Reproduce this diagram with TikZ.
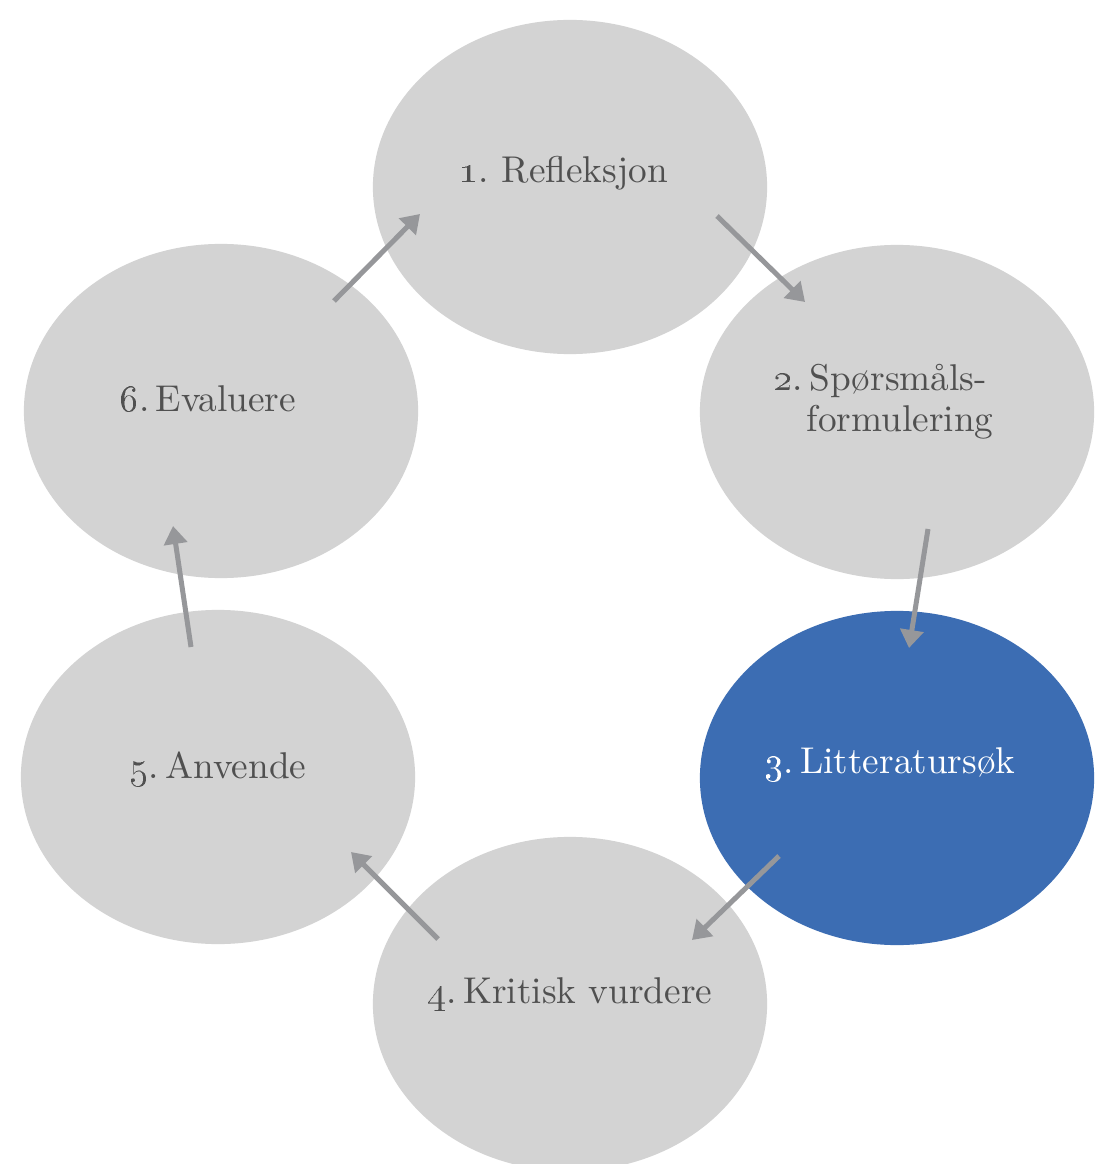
\documentclass[tikz,border=0pt]{standalone}
\usepackage{tikz}
\usetikzlibrary{shapes.geometric,arrows.meta}
\definecolor{ellgray}{HTML}{D3D3D3}
\definecolor{ellblue}{HTML}{3C6DB3}
\definecolor{arrgray}{HTML}{96979A}
\definecolor{txtgray}{HTML}{505050}
\begin{document}
\begin{tikzpicture}[x=0.01cm,y=-0.01cm,
  stage/.style={ellipse, fill=ellgray, minimum width=3.94cm, minimum height=3.34cm, inner sep=0pt},
  hl/.style={stage, fill=ellblue},
  lbl/.style={anchor=base, text=txtgray, font=\fontsize{10.6}{14}\selectfont, inner sep=0pt},
  flow/.style={draw=arrgray, line width=0.05cm, -{Triangle[width=0.23cm,length=0.18cm]}}]
\useasboundingbox (0,0) rectangle (1100,1164);
\clip (0,0) rectangle (1100,1164);
\fill[white] (0,0) rectangle (1100,1164);

\node[stage] (e1) at (570,187) {};
\node[stage] (e2) at (897,412) {};
\node[hl]    (e3) at (897,778) {};
\node[stage] (e4) at (570,1004) {};
\node[stage] (e5) at (218,777) {};
\node[stage] (e6) at (221,411) {};

\node[lbl] (t1) at (564,183) {\oldstylenums{1}.\ Refleksjon};
\node[lbl, anchor=base west] (t2a) at (773,390) {\oldstylenums{2}.\,Spørsmåls-};
\node[lbl, anchor=base west] (t2b) at (806,432) {formulering};
\node[lbl, text=white] (t3) at (890,773) {\oldstylenums{3}.\,Litteratursøk};
\node[lbl] (t4) at (570,1003) {\oldstylenums{4}.\,Kritisk vurdere};
\node[lbl] (t5) at (218,778) {\oldstylenums{5}.\,Anvende};
\node[lbl] (t6) at (208,412) {\oldstylenums{6}.\,Evaluere};

\coordinate (a1s) at (717,216); \coordinate (a1e) at (805,302);
\coordinate (a2s) at (928,529); \coordinate (a2e) at (909,648);
\coordinate (a3s) at (779,856); \coordinate (a3e) at (692,940);
\coordinate (a4s) at (438,939); \coordinate (a4e) at (351,852);
\coordinate (a5s) at (191,647); \coordinate (a5e) at (173,526);
\coordinate (a6s) at (334,301); \coordinate (a6e) at (420,214);

\draw[flow] (a1s) -- (a1e);
\draw[flow] (a2s) -- (a2e);
\draw[flow] (a3s) -- (a3e);
\draw[flow] (a4s) -- (a4e);
\draw[flow] (a5s) -- (a5e);
\draw[flow] (a6s) -- (a6e);
\end{tikzpicture}
\end{document}
